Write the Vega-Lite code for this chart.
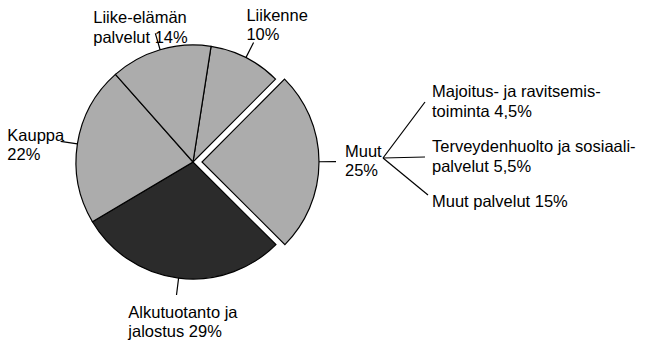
{
  "$schema": "https://vega.github.io/schema/vega-lite/v6.json",
  "width": 386,
  "height": 324,
  "autosize": {"type": "none"},
  "padding": {"left": 0, "top": 0, "right": 262, "bottom": 16},
  "background": "white",
  "config": {
    "view": {"stroke": null},
    "text": {"font": "Liberation Sans", "fontSize": 16.5, "lineHeight": 19.5, "color": "black", "lineBreak": "\n"}
  },
  "datasets": {
    "sectors": [
      {"label": "Liikenne", "text": "Liikenne\n10%", "value": 10, "order": 1, "group": "light"},
      {"label": "Muut", "text": "Muut\n25%", "value": 25, "order": 2, "group": "light"},
      {"label": "Alkutuotanto", "text": "Alkutuotanto ja\njalostus 29%", "value": 29, "order": 3, "group": "dark"},
      {"label": "Kauppa", "text": "Kauppa\n22%", "value": 22, "order": 4, "group": "light"},
      {"label": "Liike-elämän palvelut", "text": "Liike-elämän\npalvelut 14%", "value": 14, "order": 5, "group": "light"}
    ],
    "muut": [
      {"item": "Majoitus- ja ravitsemistoiminta", "text": "Majoitus- ja ravitsemis-\ntoiminta 4,5%", "value": 4.5},
      {"item": "Terveydenhuolto ja sosiaalipalvelut", "text": "Terveydenhuolto ja sosiaali-\npalvelut 5,5%", "value": 5.5},
      {"item": "Muut palvelut", "text": "Muut palvelut 15%", "value": 15}
    ]
  },
  "layer": [
    {
      "data": {"name": "sectors"},
      "transform": [
        {"stack": "value", "groupby": [], "sort": [{"field": "order", "order": "ascending"}], "as": ["v0", "v1"]},
        {"calculate": "(datum.v0 + datum.v1) / 2", "as": "mid"}
      ],
      "layer": [
        {
          "transform": [{"filter": "datum.label !== 'Muut'"}],
          "mark": {"type": "arc", "stroke": "black", "strokeWidth": 1.2},
          "encoding": {
            "theta": {"field": "v0", "type": "quantitative", "scale": {"domain": [0, 100], "range": [0.155, 6.438]}},
            "theta2": {"field": "v1"},
            "radius": {"value": 117},
            "fill": {"field": "group", "type": "nominal", "scale": {"domain": ["light", "dark"], "range": ["#acacac", "#2b2b2b"]}, "legend": null}
          }
        },
        {
          "transform": [{"filter": "datum.label === 'Muut'"}],
          "mark": {"type": "arc", "stroke": "black", "strokeWidth": 1.2, "xOffset": 9},
          "encoding": {
            "theta": {"field": "v0", "type": "quantitative", "scale": {"domain": [0, 100], "range": [0.155, 6.438]}},
            "theta2": {"field": "v1"},
            "radius": {"value": 117},
            "fill": {"field": "group", "type": "nominal", "scale": {"domain": ["light", "dark"], "range": ["#acacac", "#2b2b2b"]}, "legend": null}
          }
        },
        {
          "transform": [{"filter": "datum.label !== 'Muut'"}],
          "mark": {"type": "arc", "stroke": "black", "strokeWidth": 1.2, "fill": null},
          "encoding": {
            "theta": {"field": "mid", "type": "quantitative", "stack": null, "scale": {"domain": [0, 100], "range": [0.155, 6.438]}},
            "theta2": {"field": "mid"},
            "radius": {"value": 117},
            "radius2": {"value": 134}
          }
        },
        {
          "transform": [{"filter": "datum.label === 'Muut'"}],
          "mark": {"type": "arc", "stroke": "black", "strokeWidth": 1.2, "fill": null, "xOffset": 9},
          "encoding": {
            "theta": {"field": "mid", "type": "quantitative", "stack": null, "scale": {"domain": [0, 100], "range": [0.155, 6.438]}},
            "theta2": {"field": "mid"},
            "radius": {"value": 117},
            "radius2": {"value": 134}
          }
        },
        {
          "transform": [{"filter": "datum.label === 'Liikenne'"}],
          "mark": {"type": "text", "align": "left", "baseline": "middle", "dx": -14.4, "dy": -12.4},
          "encoding": {
            "theta": {"field": "mid", "type": "quantitative", "stack": null, "scale": {"domain": [0, 100], "range": [0.155, 6.438]}},
            "radius": {"value": 150},
            "text": {"field": "text", "type": "nominal"}
          }
        },
        {
          "transform": [{"filter": "datum.label === 'Liike-elämän palvelut'"}],
          "mark": {"type": "text", "align": "left", "baseline": "middle", "dx": -57.6, "dy": 0},
          "encoding": {
            "theta": {"field": "mid", "type": "quantitative", "stack": null, "scale": {"domain": [0, 100], "range": [0.155, 6.438]}},
            "radius": {"value": 150},
            "text": {"field": "text", "type": "nominal"}
          }
        },
        {
          "transform": [{"filter": "datum.label === 'Kauppa'"}],
          "mark": {"type": "text", "align": "left", "baseline": "middle", "dx": -37.5, "dy": -3.1},
          "encoding": {
            "theta": {"field": "mid", "type": "quantitative", "stack": null, "scale": {"domain": [0, 100], "range": [0.155, 6.438]}},
            "radius": {"value": 150},
            "text": {"field": "text", "type": "nominal"}
          }
        },
        {
          "transform": [{"filter": "datum.label === 'Alkutuotanto'"}],
          "mark": {"type": "text", "align": "left", "baseline": "middle", "dx": -46.2, "dy": 1.9},
          "encoding": {
            "theta": {"field": "mid", "type": "quantitative", "stack": null, "scale": {"domain": [0, 100], "range": [0.155, 6.438]}},
            "radius": {"value": 150},
            "text": {"field": "text", "type": "nominal"}
          }
        },
        {
          "transform": [{"filter": "datum.label === 'Muut'"}],
          "mark": {"type": "text", "align": "left", "baseline": "middle", "dx": 2, "dy": -10},
          "encoding": {
            "theta": {"field": "mid", "type": "quantitative", "stack": null, "scale": {"domain": [0, 100], "range": [0.155, 6.438]}},
            "radius": {"value": 150},
            "text": {"field": "text", "type": "nominal"}
          }
        }
      ]
    },
    {
      "data": {"name": "muut"},
      "layer": [
        {
          "transform": [{"filter": "datum.item !== 'Muut palvelut'"}],
          "mark": {"type": "rule", "stroke": "black", "strokeWidth": 1.2},
          "encoding": {
            "x": {"value": 425},
            "x2": {"value": 383},
            "y": {"field": "item", "type": "nominal", "sort": null, "scale": {"type": "point", "domain": ["Majoitus- ja ravitsemistoiminta", "Terveydenhuolto ja sosiaalipalvelut", "Muut palvelut"], "range": [102, 212], "padding": 0}, "axis": null},
            "y2": {"value": 158}
          }
        },
        {
          "transform": [{"filter": "datum.item === 'Muut palvelut'"}],
          "mark": {"type": "rule", "stroke": "black", "strokeWidth": 1.2, "yOffset": -17},
          "encoding": {
            "x": {"value": 428},
            "x2": {"value": 383},
            "y": {"field": "item", "type": "nominal", "sort": null, "scale": {"type": "point", "domain": ["Majoitus- ja ravitsemistoiminta", "Terveydenhuolto ja sosiaalipalvelut", "Muut palvelut"], "range": [102, 212], "padding": 0}, "axis": null},
            "y2": {"value": 158}
          }
        },
        {
          "mark": {"type": "text", "align": "left", "baseline": "middle", "dy": -10},
          "encoding": {
            "x": {"value": 432},
            "y": {"field": "item", "type": "nominal", "sort": null, "scale": {"type": "point", "domain": ["Majoitus- ja ravitsemistoiminta", "Terveydenhuolto ja sosiaalipalvelut", "Muut palvelut"], "range": [102, 212], "padding": 0}, "axis": null},
            "text": {"field": "text", "type": "nominal"}
          }
        }
      ]
    }
  ]
}
